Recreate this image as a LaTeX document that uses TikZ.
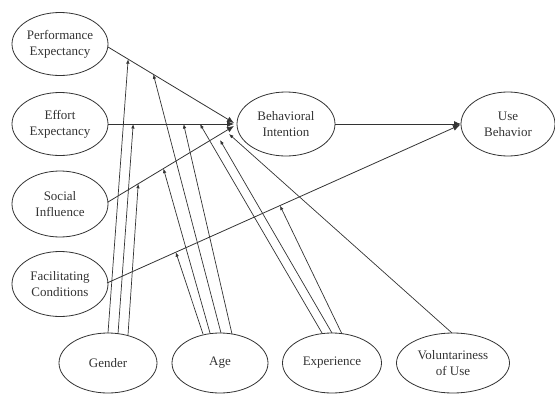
\documentclass[tikz,border=0pt]{standalone}
\usepackage{fontspec}
\setmainfont{Liberation Serif}
\usetikzlibrary{shapes.geometric,arrows.meta,calc}
\definecolor{ink}{HTML}{333333}
\begin{document}
\begin{tikzpicture}[x=1pt,y=-1pt,
  construct/.style={ellipse,draw=ink,line width=0.8pt,inner sep=0pt,
     text=ink,align=center,font=\fontsize{13}{16}\selectfont},
  mainarrow/.style={draw=ink,line width=0.8pt,-{Latex[length=7pt,width=6pt]}},
  modarrow/.style={draw=ink,line width=0.7pt,-{Latex[length=4.5pt,width=3.5pt]}}]
\useasboundingbox (0,0) rectangle (555,394);
% constructs
\node[construct,minimum width=96pt,minimum height=63pt] (pe) at (60,44) {Performance\\Expectancy};
\node[construct,minimum width=96pt,minimum height=63pt] (ee) at (60,124) {Effort\\Expectancy};
\node[construct,minimum width=96pt,minimum height=66pt] (si) at (60,204) {Social\\Influence};
\node[construct,minimum width=96pt,minimum height=65pt] (fc) at (60,284) {Facilitating\\Conditions};
\node[construct,minimum width=98pt,minimum height=64pt] (bi) at (286,124) {Behavioral\\Intention};
\node[construct,minimum width=94pt,minimum height=64pt] (ub) at (508,124) {Use\\Behavior};
\node[construct,minimum width=98pt,minimum height=60pt] (gen) at (108,363) {Gender};
\node[construct,minimum width=96pt,minimum height=60pt] (age) at (220,363) {Age};
\node[construct,minimum width=99pt,minimum height=60pt] (exp) at (332,363) {Experience};
\node[construct,minimum width=113pt,minimum height=60pt] (vol) at (453,363) {Voluntariness\\of Use};
% main path end points
\coordinate (peS) at (108,47);  \coordinate (peT) at (234,123);
\coordinate (eeS) at (108,124); \coordinate (eeT) at (234,124);
\coordinate (siS) at (108,202); \coordinate (siT) at (234,126);
\coordinate (fcS) at (107,283); \coordinate (fcT) at (460,125);
\coordinate (biS) at (335,124); \coordinate (biT) at (461,124);
\draw[mainarrow] (peS) -- (peT);
\draw[mainarrow] (eeS) -- (eeT);
\draw[mainarrow] (siS) -- (siT);
\draw[mainarrow] (fcS) -- (fcT);
\draw[mainarrow] (biS) -- (biT);
% moderator targets
\coordinate (gPE) at ($(peS)!0.16!(peT)$);
\coordinate (aPE) at ($(peS)!0.36!(peT)$);
\coordinate (gEE) at ($(eeS)!0.2!(eeT)$);
\coordinate (aEE) at ($(eeS)!0.6!(eeT)$);
\coordinate (xEE) at ($(eeS)!0.73!(eeT)$);
\coordinate (gSI) at ($(siS)!0.24!(siT)$);
\coordinate (aSI) at ($(siS)!0.44!(siT)$);
\coordinate (xSI) at (220,140);
\coordinate (vSI) at (229,134);
\coordinate (aFC) at ($(fcS)!0.195!(fcT)$);
\coordinate (xFC) at ($(fcS)!0.49!(fcT)$);
% moderator start points
\coordinate (g1) at (108,333); \coordinate (g2) at (118,334); \coordinate (g3) at (128,335);
\coordinate (a1) at (203,334); \coordinate (a2) at (210,333); \coordinate (a3) at (221,333); \coordinate (a4) at (232,334);
\coordinate (x1) at (322,333); \coordinate (x2) at (332,333); \coordinate (x3) at (342,334);
\coordinate (v1) at (452,333);
\draw[modarrow] (g1) -- (gPE);
\draw[modarrow] (g2) -- (gEE);
\draw[modarrow] (g3) -- (gSI);
\draw[modarrow] (a1) -- (aFC);
\draw[modarrow] (a2) -- (aSI);
\draw[modarrow] (a3) -- (aPE);
\draw[modarrow] (a4) -- (aEE);
\draw[modarrow] (x1) -- (xEE);
\draw[modarrow] (x2) -- (xSI);
\draw[modarrow] (x3) -- (xFC);
\draw[modarrow] (v1) -- (vSI);
\end{tikzpicture}
\end{document}
